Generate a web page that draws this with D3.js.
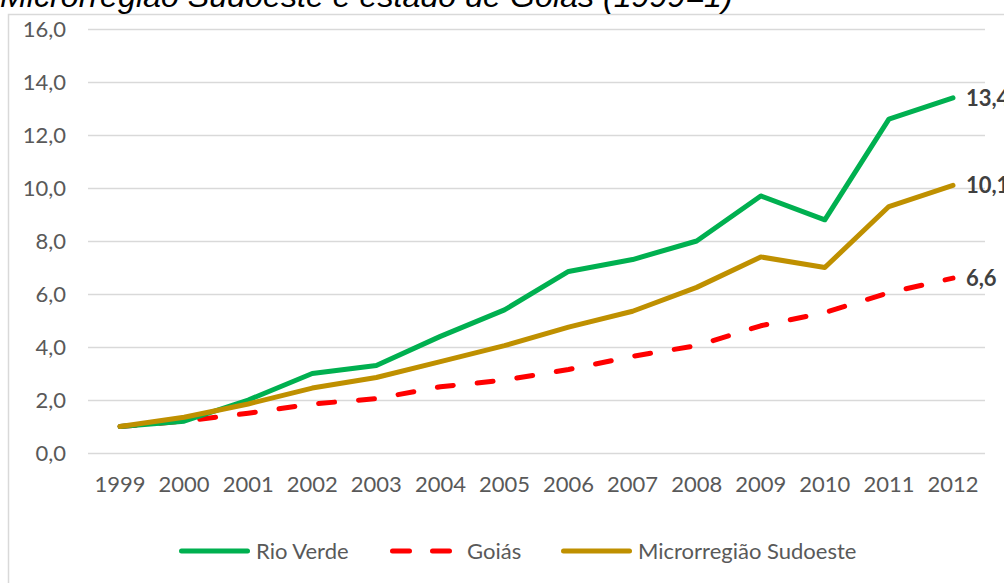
<!DOCTYPE html>
<html>
<head>
<meta charset="utf-8">
<script src="https://cdn.jsdelivr.net/npm/d3@7"></script>
<style>
  body { margin: 0; background: #fff; }
  svg { display: block; }
</style>
</head>
<body>
<svg id="chart" width="1004" height="583"></svg>
<script>
// values (index 1999 = 1)
var years = ['1999','2000','2001','2002','2003','2004','2005','2006','2007','2008','2009','2010','2011','2012'];
var rioVerde = [1.0, 1.2, 2.0, 3.0, 3.3, 4.4, 5.4, 6.85, 7.3, 8.0, 9.7, 8.8, 12.6, 13.4];
var goias = [1.0, 1.2, 1.5, 1.85, 2.05, 2.5, 2.75, 3.15, 3.65, 4.05, 4.8, 5.3, 6.05, 6.6];
var micro = [1.0, 1.35, 1.85, 2.45, 2.85, 3.45, 4.05, 4.75, 5.35, 6.25, 7.4, 7.0, 9.3, 10.1];
var yTicks = [0, 2, 4, 6, 8, 10, 12, 14, 16];
var title = 'Microrregião Sudoeste e estado de Goiás (1999=1)';

var series = [
  {name: 'Rio Verde', values: rioVerde, color: '#00B050', dash: null, legDash: null},
  {name: 'Goiás', values: goias, color: '#FF0000', dash: '16,24', legDash: '17,23'},
  {name: 'Microrregião Sudoeste', values: micro, color: '#BF9000', dash: null, legDash: null}
];

var svg = d3.select('#chart');
var font = 'Lato, "Open Sans", sans-serif';
var fs = 22;
var fmt = function (v) { return d3.format('.1f')(v).replace('.', ','); };

// chart frame (cut by the window at right and bottom)
svg.append('rect')
  .attr('x', 8.5).attr('y', 14.5).attr('width', 1010).attr('height', 600)
  .attr('fill', 'none').attr('stroke', '#d9d9d9').attr('stroke-width', 1.5);

// title, clipped at the top like the source
var t = svg.append('text')
  .attr('x', 0).attr('y', 7)
  .attr('font-family', '"Liberation Sans", Arial, sans-serif')
  .attr('font-style', 'italic')
  .attr('font-size', 24)
  .attr('fill', '#000')
  .text(title);
var tl = t.node().getComputedTextLength();
t.attr('font-size', 24 * 733 / tl);

var x = d3.scaleBand().domain(years).range([88, 985]).padding(0);
var y = d3.scaleLinear().domain([0, 16]).range([453, 29]);

var yAxis = svg.append('g')
  .attr('transform', 'translate(88,0)')
  .call(d3.axisLeft(y).tickValues(yTicks).tickFormat(fmt).tickSize(-897).tickPadding(22));
yAxis.select('.domain').remove();
yAxis.selectAll('line').attr('stroke', '#d9d9d9').attr('stroke-width', 1.5);
yAxis.selectAll('text')
  .attr('font-family', font).attr('font-size', fs).attr('fill', '#595959');

var xAxis = svg.append('g')
  .attr('transform', 'translate(0,453)')
  .call(d3.axisBottom(x).tickSize(0).tickPadding(23));
xAxis.select('.domain').remove();
xAxis.selectAll('text')
  .attr('font-family', font).attr('font-size', fs).attr('fill', '#595959');

var line = d3.line()
  .x(function (d, i) { return x(years[i]) + x.bandwidth() / 2; })
  .y(function (d) { return y(d); });

// red dashes go underneath the other two
var order = [1, 0, 2];
order.forEach(function (k) {
  var s = series[k];
  svg.append('path')
    .datum(s.values)
    .attr('d', line)
    .attr('fill', 'none')
    .attr('stroke', s.color)
    .attr('stroke-width', 5)
    .attr('stroke-linecap', 'round')
    .attr('stroke-linejoin', 'round')
    .attr('stroke-dasharray', s.dash);
});

// end labels
series.forEach(function (s) {
  var last = s.values.length - 1;
  svg.append('text')
    .attr('x', x(years[last]) + x.bandwidth() / 2 + 13)
    .attr('y', y(s.values[last]) + 8)
    .attr('font-family', font).attr('font-size', fs).attr('font-weight', 'bold')
    .attr('fill', '#404040')
    .text(fmt(s.values[last]));
});

// legend
var legX = [179, 390, 561];
var legW = [71, 62, 71];
var legGap = [6, 15, 6];
var ly = 551;
series.forEach(function (s, i) {
  svg.append('line')
    .attr('x1', legX[i] + 2.5).attr('x2', legX[i] + legW[i] - 2.5)
    .attr('y1', ly).attr('y2', ly)
    .attr('stroke', s.color).attr('stroke-width', 5)
    .attr('stroke-linecap', 'round')
    .attr('stroke-dasharray', s.legDash);
  svg.append('text')
    .attr('x', legX[i] + legW[i] + legGap[i])
    .attr('y', ly + 8)
    .attr('font-family', font).attr('font-size', fs).attr('fill', '#595959')
    .text(s.name);
});
</script>
</body>
</html>
